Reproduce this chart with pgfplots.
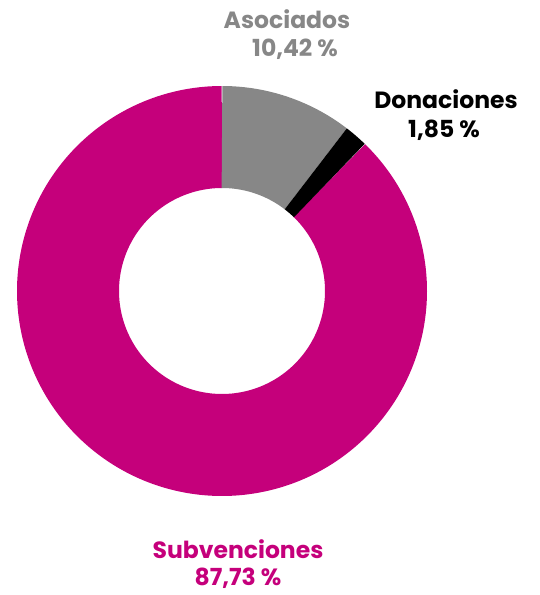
\documentclass[border=0pt]{standalone}
\usepackage{pgfplots}
\pgfplotsset{compat=1.18}
\usepackage{fontspec}
\setmainfont{Poppins}
\definecolor{magen}{HTML}{C5007B}
\definecolor{gris}{HTML}{878787}
\def\vA{10.42}
\def\vD{1.85}
\def\vS{87.73}
\pgfmathsetmacro\aA{90}
\pgfmathsetmacro\aB{90-3.6*\vA}
\pgfmathsetmacro\aC{\aB-3.6*\vD}
\pgfmathsetmacro\aD{\aC-3.6*\vS}
\tikzset{lab/.style={font=\bfseries\fontsize{23.5}{28}\selectfont,align=center,inner sep=0pt}}
\begin{document}
\begin{tikzpicture}
\begin{axis}[x=1pt,y=1pt,xmin=0,xmax=540,ymin=0,ymax=595,axis line style={draw=none},ticks=none,clip=false]
\addplot[line width=102pt, color=magen, domain=\aD:\aC, samples=400] ({222+154*cos(x)},{304+154*sin(x)});
\addplot[line width=102pt, color=gris, domain=\aB:\aA, samples=80] ({222+154*cos(x)},{304+154*sin(x)});
\addplot[line width=102pt, color=black, domain=\aC:\aB, samples=20] ({222+154*cos(x)},{304+154*sin(x)});
\node[lab,text=gris] at (axis cs:287,576) {Asociados};
\node[lab,text=gris] at (axis cs:295,546) {10,42 \%};
\node[lab,text=black] at (axis cs:446,496) {Donaciones};
\node[lab,text=black] at (axis cs:444,465) {1,85 \%};
\node[lab,text=magen] at (axis cs:238,46) {Subvenciones};
\node[lab,text=magen] at (axis cs:238,17) {87,73 \%};
\end{axis}
\end{tikzpicture}
\end{document}
